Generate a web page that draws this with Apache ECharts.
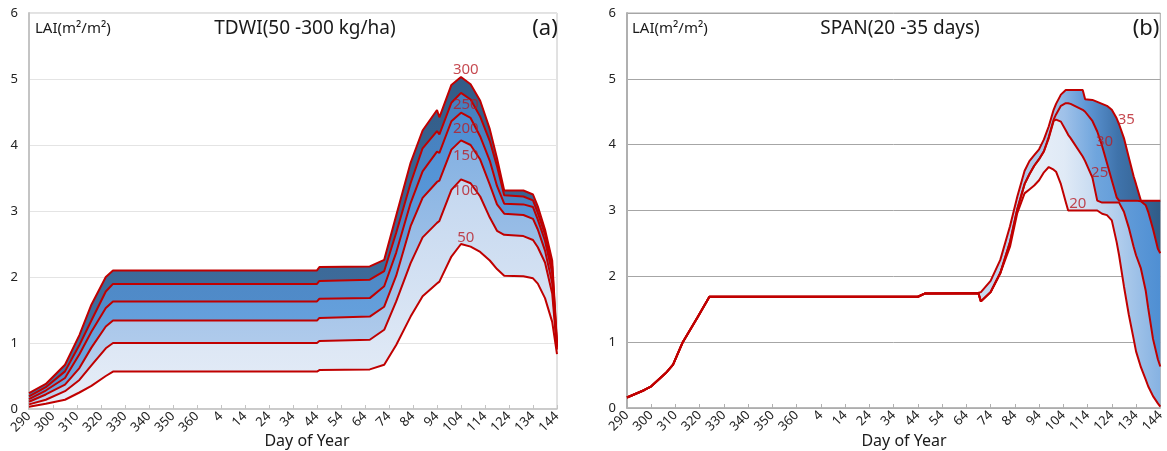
<!DOCTYPE html>
<html><head><meta charset="utf-8">
<script src="https://cdn.jsdelivr.net/npm/echarts@6/dist/echarts.min.js"></script>
<style>html,body{margin:0;padding:0;background:#fff}#c{width:1167px;height:451px}</style>
</head><body><div id="c"></div>
<script>
// ---------- tick labels (day of year, every 10 days; leap year wraps after 366) ----------
const xTickLabels = ['290','300','310','320','330','340','350','360','4','14','24','34','44','54','64','74','84','94','104','114','124','134','144'];

// ---------- panel (a): TDWI 50-300 kg/ha ----------
const leftDays = [290, 297, 305, 311, 316, 322, 325, 44, 45, 66, 72, 77, 83, 88, 94, 95, 100, 104, 108, 112, 116, 119, 122, 130, 134, 136, 139, 142, 144];
const tdwi50  = [0.035, 0.08, 0.14, 0.25, 0.35, 0.50, 0.567, 0.567, 0.59, 0.60, 0.67, 0.97, 1.40, 1.71, 1.90, 1.93, 2.31, 2.50, 2.46, 2.38, 2.25, 2.12, 2.02, 2.01, 1.98, 1.90, 1.68, 1.32, 0.83];
const tdwi100 = [0.07, 0.14, 0.27, 0.44, 0.66, 0.92, 1.00, 1.00, 1.03, 1.05, 1.20, 1.63, 2.21, 2.60, 2.82, 2.85, 3.32, 3.48, 3.42, 3.22, 2.90, 2.70, 2.64, 2.62, 2.56, 2.45, 2.22, 1.75, 0.90];
const tdwi150 = [0.11, 0.22, 0.37, 0.62, 0.93, 1.25, 1.34, 1.34, 1.38, 1.40, 1.55, 2.02, 2.77, 3.20, 3.44, 3.46, 3.93, 4.07, 4.00, 3.78, 3.40, 3.10, 2.96, 2.94, 2.88, 2.72, 2.40, 1.91, 0.93];
const tdwi200 = [0.15, 0.28, 0.47, 0.83, 1.17, 1.53, 1.63, 1.63, 1.67, 1.68, 1.86, 2.37, 3.12, 3.60, 3.90, 3.88, 4.36, 4.49, 4.41, 4.13, 3.76, 3.38, 3.11, 3.10, 3.06, 2.87, 2.55, 2.06, 0.95];
const tdwi250 = [0.19, 0.33, 0.57, 0.97, 1.34, 1.78, 1.895, 1.895, 1.94, 1.96, 2.09, 2.67, 3.42, 3.95, 4.21, 4.16, 4.64, 4.79, 4.69, 4.43, 4.06, 3.68, 3.24, 3.22, 3.16, 2.97, 2.65, 2.16, 0.98];
const tdwi300 = [0.24, 0.38, 0.67, 1.12, 1.58, 2.00, 2.10, 2.10, 2.15, 2.16, 2.26, 2.93, 3.73, 4.22, 4.53, 4.42, 4.91, 5.03, 4.92, 4.67, 4.24, 3.80, 3.31, 3.31, 3.25, 3.07, 2.72, 2.25, 1.00];
const leftNames = ['50', '100', '150', '200', '250', '300'];
const leftTagDays = [106, 106, 106, 106, 106, 106];
const leftTagLAI = [2.60, 3.30, 3.84, 4.25, 4.61, 5.14];

// ---------- panel (b): SPAN 20-35 days ----------
const rightDays = [290, 297, 300, 306, 309, 313, 319, 324, 44, 47, 69, 70, 74, 78, 82, 85, 88, 90, 92, 94, 96, 98, 100, 101, 103, 105, 106, 107, 112, 113, 116, 118, 120, 122, 124, 126, 127, 129, 131, 133, 134, 136, 138, 139, 141, 143, 144];
const span20 = [0.16, 0.27, 0.33, 0.53, 0.66, 1.00, 1.37, 1.69, 1.69, 1.74, 1.74, 1.62, 1.76, 2.05, 2.45, 2.96, 3.26, 3.32, 3.38, 3.46, 3.58, 3.66, 3.62, 3.59, 3.40, 3.13, 3.00, 3.00, 3.00, 3.00, 3.00, 3.00, 2.95, 2.93, 2.85, 2.52, 2.32, 1.85, 1.42, 1.05, 0.86, 0.62, 0.43, 0.33, 0.18, 0.07, 0.02];
const span25 = [0.16, 0.27, 0.33, 0.53, 0.66, 1.00, 1.37, 1.69, 1.69, 1.74, 1.74, 1.62, 1.76, 2.05, 2.52, 3.02, 3.40, 3.55, 3.68, 3.78, 3.90, 4.10, 4.36, 4.38, 4.35, 4.22, 4.15, 4.10, 3.82, 3.75, 3.50, 3.15, 3.12, 3.12, 3.12, 3.12, 3.12, 2.98, 2.74, 2.45, 2.32, 2.12, 1.78, 1.52, 1.05, 0.74, 0.63];
const span30 = [0.16, 0.27, 0.33, 0.53, 0.66, 1.00, 1.37, 1.69, 1.69, 1.74, 1.74, 1.62, 1.76, 2.05, 2.52, 3.02, 3.40, 3.55, 3.68, 3.78, 3.90, 4.12, 4.38, 4.46, 4.59, 4.63, 4.63, 4.62, 4.53, 4.50, 4.36, 4.20, 3.98, 3.72, 3.46, 3.20, 3.15, 3.15, 3.15, 3.15, 3.15, 3.14, 3.08, 2.98, 2.72, 2.42, 2.35];
const span35 = [0.16, 0.27, 0.33, 0.53, 0.66, 1.00, 1.37, 1.69, 1.69, 1.74, 1.75, 1.76, 1.93, 2.25, 2.76, 3.21, 3.60, 3.75, 3.84, 3.93, 4.08, 4.28, 4.53, 4.62, 4.76, 4.83, 4.83, 4.83, 4.83, 4.69, 4.68, 4.65, 4.62, 4.59, 4.53, 4.40, 4.31, 4.10, 3.81, 3.52, 3.40, 3.15, 3.15, 3.15, 3.15, 3.15, 3.15];
const rightNames = ['20', '25', '30', '35'];
const rightTagDays = [110, 119, 121, 130];
const rightTagLAI = [3.10, 3.58, 4.05, 4.38];

// ---------- helpers ----------
function toOffset(doy) { return doy >= 290 ? doy - 290 : doy + 76; }
const FONT = 'Noto Sans, sans-serif';
const RED = '#c00000';
const G = echarts.graphic.LinearGradient;

function bandSeries(gi, days, lower, upper, fill) {
  const data = days.map((d, i) => [toOffset(d), lower[i], upper[i]]);
  return {
    type: 'custom', xAxisIndex: gi, yAxisIndex: gi, silent: true, z: 1,
    encode: { x: 0, y: [1, 2] }, data,
    renderItem(params, api) {
      if (params.dataIndexInside !== 0) return null;
      const top = [], bot = [];
      for (let i = 0; i < data.length; i++) {
        top.push(api.coord([api.value(0, i), api.value(2, i)]));
        bot.push(api.coord([api.value(0, i), api.value(1, i)]));
      }
      return { type: 'polygon', shape: { points: top.concat(bot.reverse()) }, style: { fill: fill, stroke: null } };
    }
  };
}
function lineSeries(gi, days, vals) {
  return {
    type: 'line', xAxisIndex: gi, yAxisIndex: gi, silent: true, z: 3, showSymbol: false, symbol: 'none',
    lineStyle: { color: RED, width: 2 },
    data: days.map((d, i) => [toOffset(d), vals[i]])
  };
}
function tagSeries(gi, tagDays, tagLAI, names, size) {
  return {
    type: 'scatter', xAxisIndex: gi, yAxisIndex: gi, silent: true, z: 5, symbolSize: 0,
    data: names.map((n, i) => [toOffset(tagDays[i]), tagLAI[i], n]),
    label: { show: true, position: 'inside', formatter: p => p.data[2], color: '#b81c24', fontSize: size, fontFamily: FONT }
  };
}
function xAxis(gi, lineColor) {
  return {
    type: 'value', gridIndex: gi, min: 0, max: 220, interval: 10,
    axisLine: { show: true, lineStyle: { color: lineColor, width: 1.5 } },
    axisTick: { show: true, inside: true, length: 4, lineStyle: { color: lineColor } },
    splitLine: { show: false },
    axisLabel: { rotate: 45, margin: 5, fontSize: 13, color: '#222', fontFamily: FONT,
      formatter: v => xTickLabels[Math.round(v / 10)] }
  };
}
function yAxis(gi, lineColor, gridColor) {
  return {
    type: 'value', gridIndex: gi, min: 0, max: 6, interval: 1,
    axisLine: { show: true, lineStyle: { color: lineColor, width: 2 } },
    axisTick: { show: false },
    splitLine: { show: true, lineStyle: { color: gridColor, width: 1 } },
    axisLabel: { margin: 11, fontSize: 13, color: '#222', fontFamily: FONT }
  };
}

const leftCurves = [tdwi50, tdwi100, tdwi150, tdwi200, tdwi250, tdwi300];
const leftFills = [
  new G(0, 0, 0, 1, [{ offset: 0, color: '#c4d7ef' }, { offset: 1, color: '#e6edf7' }]),
  new G(0, 0, 0, 1, [{ offset: 0, color: '#84b1e2' }, { offset: 1, color: '#bcd2ee' }]),
  new G(0, 0, 0, 1, [{ offset: 0, color: '#4e8fd4' }, { offset: 1, color: '#6ea6de' }]),
  new G(0, 0, 0, 1, [{ offset: 0, color: '#4580bf' }, { offset: 1, color: '#5590cd' }]),
  new G(0, 0, 0, 1, [{ offset: 0, color: '#325c87' }, { offset: 1, color: '#4373a5' }])
];
const rightCurves = [span20, span25, span30, span35];
const rightFills = [
  new G(0, 0, 1, 0, [{ offset: 0, color: '#f4f7fc' }, { offset: 0.66, color: '#f2f6fb' }, { offset: 0.82, color: '#e0eaf6' }, { offset: 0.9, color: '#bcd4ef' }, { offset: 1, color: '#86b2e2' }]),
  new G(0, 0, 1, 0, [{ offset: 0, color: '#d5e3f4' }, { offset: 0.66, color: '#d5e3f4' }, { offset: 0.82, color: '#9fc1e9' }, { offset: 0.88, color: '#6fa5dd' }, { offset: 1, color: '#4f8fd3' }]),
  new G(0, 0, 1, 0, [{ offset: 0, color: '#c9dcf1' }, { offset: 0.66, color: '#c9dcf1' }, { offset: 0.8, color: '#9dbfe7' }, { offset: 0.86, color: '#5f97d6' }, { offset: 0.92, color: '#3f73ab' }, { offset: 1, color: '#305b87' }])
];

const series = [];
for (let k = 1; k < leftCurves.length; k++) series.push(bandSeries(0, leftDays, leftCurves[k - 1], leftCurves[k], leftFills[k - 1]));
for (let k = 1; k < rightCurves.length; k++) series.push(bandSeries(1, rightDays, rightCurves[k - 1], rightCurves[k], rightFills[k - 1]));
leftCurves.forEach(c => series.push(lineSeries(0, leftDays, c)));
rightCurves.forEach(c => series.push(lineSeries(1, rightDays, c)));
series.push(tagSeries(0, leftTagDays, leftTagLAI, leftNames, 15));
series.push(tagSeries(1, rightTagDays, rightTagLAI, rightNames, 15));

function txt(x, y, text, size, align) {
  return { type: 'text', x, y, silent: true, z: 10,
    style: { text, fill: '#1a1a1a', font: size + 'px ' + FONT, textAlign: align, textVerticalAlign: 'middle' } };
}

const chart = echarts.init(document.getElementById('c'));
chart.setOption({
  animation: false,
  backgroundColor: '#fff',
  grid: [
    { left: 29, top: 13, width: 528, height: 396, show: true, borderColor: '#c4c4c4', borderWidth: 1, backgroundColor: 'transparent' },
    { left: 627, top: 13, width: 534, height: 395, show: true, borderColor: '#a8a8a8', borderWidth: 1, backgroundColor: 'transparent' }
  ],
  xAxis: [xAxis(0, '#c4c4c4'), xAxis(1, '#b0b0b0')],
  yAxis: [yAxis(0, '#c4c4c4', '#e4e4e4'), yAxis(1, '#b0b0b0', '#a6a6a6')],
  series,
  graphic: [
    txt(35, 29, 'LAI(m²/m²)', 15, 'left'),
    txt(305, 29, 'TDWI(50 -300 kg/ha)', 19, 'center'),
    txt(545, 29, '(a)', 22, 'center'),
    txt(632, 29, 'LAI(m²/m²)', 15, 'left'),
    txt(900, 29, 'SPAN(20 -35 days)', 19, 'center'),
    txt(1146, 29, '(b)', 22, 'center'),
    txt(307, 441, 'Day of Year', 16, 'center'),
    txt(904, 441, 'Day of Year', 16, 'center')
  ]
});
</script></body></html>
